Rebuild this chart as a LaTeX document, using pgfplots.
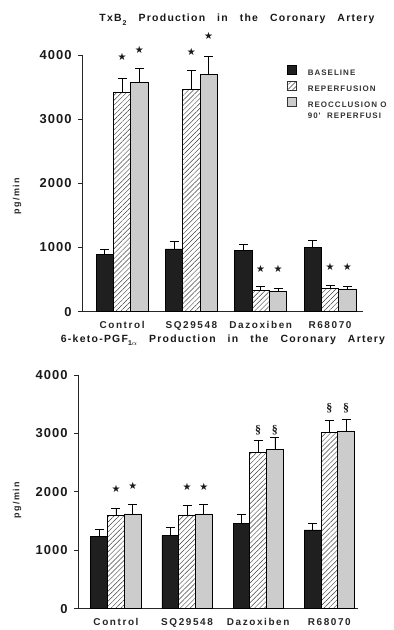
\documentclass[border=0pt]{standalone}
\usepackage{fontspec}
\usepackage{pgfplots}
\pgfplotsset{compat=1.18}
\usepackage{pgfplotstable}
\usetikzlibrary{patterns.meta}
\setmainfont{Liberation Sans}
\newfontfamily\tickf[LetterSpace=8]{Liberation Sans}
\newfontfamily\labf[LetterSpace=16]{Liberation Sans}
\newfontfamily\titf[LetterSpace=12,WordSpace=2.9]{Liberation Sans}
\newfontfamily\legf[LetterSpace=13]{Liberation Sans}
\newfontfamily\symf{DejaVu Sans}
\newfontfamily\serf{Liberation Serif}

\pgfplotstableread{
x base baseE rep repE reo reoE
0 899 78 3417 219 3573 212
1 977 124 3464 301 3698 274
2 950 104 333 63 322 42
3 1003 114 364 47 354 42
}\topdata

\pgfplotstableread{
x base baseE rep repE reo reoE
0 1233 127 1592 132 1622 171
1 1250 137 1604 172 1622 171
2 1462 148 2678 206 2729 206
3 1348 114 3014 205 3043 200
}\botdata

\pgfplotsset{
  common/.style={
    ybar=0pt,
    scale only axis, clip=false,
    ymin=0, ymax=4000,
    axis x line*=bottom, axis y line*=left,
    axis line style={-, black!85, line width=0.8pt},
    ytick={0,1000,2000,3000,4000}, tick align=outside, major tick length=4bp,
    ytick style={black!85, line width=0.8pt},
    xtick={0,1,2,3}, xticklabels={Control,SQ29548,Dazoxiben,R68070},
    xtick style={draw=none},
    scaled y ticks=false,
    /pgf/number format/1000 sep={},
    /pgf/number format/assume math mode=true,
    yticklabel style={font=\tickf\fontsize{13}{13}\selectfont\bfseries, text=black!90, xshift=-3bp},
    xticklabel style={font=\labf\fontsize{10}{10}\selectfont\bfseries, text=black!85, yshift=-2bp},
  },
  ebar/.style={error bars/.cd, y dir=plus, y explicit, error mark=|,
     error bar style={line width=0.8pt, black},
     error mark options={line width=0.8pt, draw=black, mark size=4.5bp}},
  barB/.style={bar width=#1, bar shift=-#1, fill=black!88, draw=black, line width=0.7pt},
  barR/.style={bar width=#1, bar shift=0, draw=black, line width=0.7pt,
     pattern={Lines[angle=45,distance=3.5bp,line width=0.45pt]}, pattern color=black!75},
  barO/.style={bar width=#1, bar shift=#1, fill=black!20, draw=black, line width=0.7pt},
  ann/.style={draw=none, fill=none, bar shift=0, forget plot, nodes near coords={#1},
     every node near coord/.style={anchor=center, inner sep=0pt, text=black!90}},
  myleg/.style={legend image code/.code={\draw[##1] (0bp,-1.6bp) rectangle (9bp,7.4bp);}},
}

\begin{document}
\begin{tikzpicture}
\useasboundingbox (0,0) rectangle (394bp,630bp);

% ---------- top chart ----------
\begin{axis}[common,
  width=281bp, height=256.7bp, at={(82bp,318.3bp)}, anchor=south west,
  xmin=-0.578, xmax=3.476,
  legend style={at={(0.7295,0.961)}, anchor=north west, draw=none, fill=none,
    inner sep=0pt, row sep=5bp,
    font=\legf\fontsize{8}{8}\selectfont\bfseries, text=black!80,
    nodes={inner sep=0pt, text height=6bp, text depth=0bp},
    /tikz/every odd column/.append style={column sep=11bp}},
  legend cell align=left,
]
\addlegendimage{myleg, fill=black!88, draw=black, line width=0.6pt}
\addlegendentry{BASELINE}
\addlegendimage{myleg, draw=black!80, line width=0.6pt, pattern={Lines[angle=45,distance=3.5bp,line width=0.45pt]}, pattern color=black!75}
\addlegendentry{REPERFUSION}
\addlegendimage{myleg, fill=black!20, draw=black!80, line width=0.6pt}
\addlegendentry{REOCCLUSION O}
\addlegendimage{empty legend}
\addlegendentry{90'\ \ REPERFUSI}

\addplot[forget plot, barB=0.25, ebar] table[x=x, y=base, y error=baseE] {\topdata};
\addplot[forget plot, barR=0.25, ebar] table[x=x, y=rep, y error=repE] {\topdata};
\addplot[forget plot, barO=0.25, ebar] table[x=x, y=reo, y error=reoE] {\topdata};
\addplot[ann={\symf\fontsize{10}{10}\selectfont ★}] coordinates {
  (0,3965) (0.25,4076) (1,4050) (1.25,4300)
  (2,660) (2.25,660) (3,700) (3.25,700)};
\end{axis}

% ---------- bottom chart ----------
\begin{axis}[common,
  width=280bp, height=233.7bp, at={(78bp,21.3bp)}, anchor=south west,
  xmin=-0.534, xmax=3.404,
]
\addplot[forget plot, barB=0.236, ebar] table[x=x, y=base, y error=baseE] {\botdata};
\addplot[forget plot, barR=0.236, ebar] table[x=x, y=rep, y error=repE] {\botdata};
\addplot[forget plot, barO=0.236, ebar] table[x=x, y=reo, y error=reoE] {\botdata};
\addplot[ann={\symf\fontsize{10}{10}\selectfont ★}] coordinates {
  (0,2050) (0.236,2100) (1,2079) (1.236,2079)};
\addplot[ann={\serf\bfseries\fontsize{12}{12}\selectfont §}] coordinates {
  (2,3060) (2.236,3060) (3,3431) (3.236,3431)};
\end{axis}

% ---------- titles and labels ----------
\node[anchor=base, inner sep=0pt, text=black!90, font=\titf\fontsize{10.5}{10.5}\selectfont\bfseries]
  at (237bp,608bp) {TxB\kern1pt\raisebox{-3.5bp}{\fontsize{7}{7}\selectfont 2} Production in the Coronary Artery};
\node[anchor=base, inner sep=0pt, text=black!90, font=\titf\fontsize{10.5}{10.5}\selectfont\bfseries]
  at (223bp,287bp) {6-keto-PGF\raisebox{-2.5bp}{\fontsize{7}{7}\selectfont 1$\alpha$} Production in the Coronary Artery};
\node[rotate=90, inner sep=0pt, text=black!85, font=\labf\fontsize{9}{9}\selectfont\bfseries]
  at (17bp,434bp) {pg/min};
\node[rotate=90, inner sep=0pt, text=black!85, font=\labf\fontsize{9}{9}\selectfont\bfseries]
  at (17bp,130bp) {pg/min};
\end{tikzpicture}
\end{document}
